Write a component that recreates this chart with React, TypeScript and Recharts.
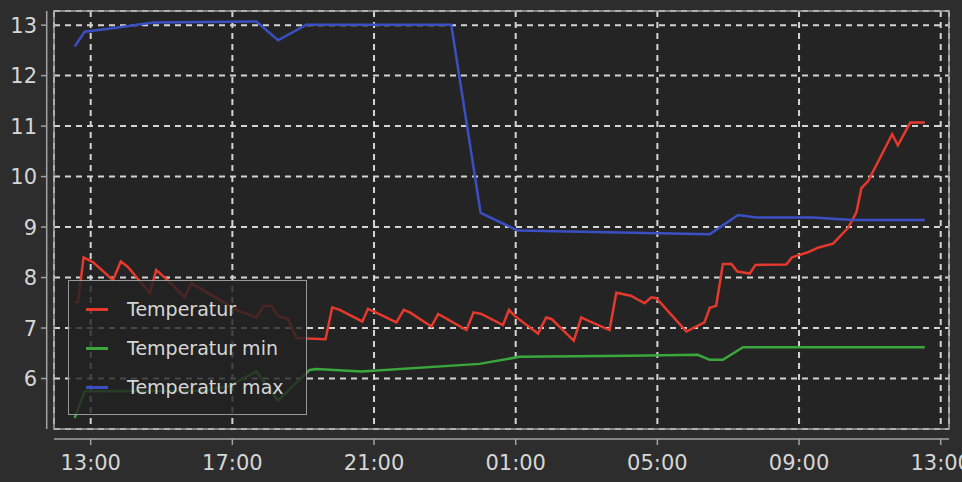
import React from "react";
import { LineChart, Line, XAxis, YAxis, CartesianGrid, ReferenceLine, ReferenceArea } from "recharts";

// hours since midnight of day 1 (24+ = next day)
const tempHours = [
  12.55, 12.64, 12.8, 13.07, 13.63, 13.85, 14.05, 14.67, 14.85, 15.14, 15.65, 15.84, 17.11, 17.68, 17.88,
  18.1, 18.29, 18.57, 18.81, 19.63, 19.82, 20.03, 20.67, 20.83, 21.05, 21.63, 21.84, 22.01, 22.62, 22.81,
  23.61, 23.81, 24.03, 24.64, 24.81, 24.97, 25.63, 25.86, 26.01, 26.64, 26.85, 27.09, 27.65, 27.84, 28.25,
  28.64, 28.83, 28.97, 29.82, 30.33, 30.48, 30.66, 30.85, 31.09, 31.26, 31.61, 31.77, 32.64, 32.8, 33.25,
  33.53, 33.96, 34.38, 34.62, 34.76, 34.95, 35.63, 35.79, 36.14, 36.55,
];
const tempValues = [
  7.51, 7.51, 8.4, 8.3, 7.95, 8.32, 8.21, 7.69, 8.15, 7.97, 7.61, 7.89, 7.36, 7.21, 7.44,
  7.44, 7.24, 7.18, 6.8, 6.78, 7.41, 7.36, 7.13, 7.38, 7.31, 7.11, 7.36, 7.31, 7.03, 7.28,
  6.96, 7.31, 7.28, 7.06, 7.36, 7.24, 6.89, 7.21, 7.18, 6.75, 7.21, 7.13, 6.96, 7.7, 7.64,
  7.49, 7.61, 7.59, 6.93, 7.11, 7.4, 7.44, 8.27, 8.27, 8.12, 8.08, 8.25, 8.26, 8.4, 8.5,
  8.59, 8.67, 8.98, 9.29, 9.77, 9.91, 10.84, 10.62, 11.07, 11.07,
];

const minHours = [12.55, 12.83, 16.2, 16.9, 17.68, 18.29, 19.18, 19.37, 20.64, 23.98, 25.11, 28.22, 30.14, 30.48, 30.85, 31.42, 36.55];
const minValues = [5.22, 5.75, 5.76, 5.85, 6.14, 5.56, 6.17, 6.19, 6.14, 6.29, 6.43, 6.45, 6.47, 6.37, 6.37, 6.62, 6.62];

const maxHours = [12.55, 12.83, 13.72, 14.76, 17.68, 18.29, 19.09, 23.18, 24.01, 25.06, 30.48, 31.28, 31.79, 33.39, 34.52, 36.55];
const maxValues = [12.58, 12.87, 12.95, 13.05, 13.07, 12.7, 13.01, 13.01, 9.28, 8.93, 8.86, 9.24, 9.19, 9.19, 9.14, 9.14];

const xTicks = [13, 17, 21, 25, 29, 33, 37];
const yTicks = [6, 7, 8, 9, 10, 11, 12, 13];

const seriesNames = ["Temperatur", "Temperatur min", "Temperatur max"];
const seriesColors = ["#e5392d", "#3ba63b", "#3b4fc4"];

const toPoints = (hours: number[], values: number[]) => hours.map((t, i) => ({ t, v: values[i] }));
const tempData = toPoints(tempHours, tempValues);
const minData = toPoints(minHours, minValues);
const maxData = toPoints(maxHours, maxValues);

const X_DOMAIN: [number, number] = [11.964, 37.234];
const Y_DOMAIN: [number, number] = [5.0, 13.28];
const FONT = "DejaVu Sans";
const TEXT = "#d6d6d6";
const FRAME = "#a2a2a2";

const fmtHour = (h: number) => String(h % 24).padStart(2, "0") + ":00";

const XTick = ({ x, y, payload }: any) => (
  <g>
    <line x1={x} x2={x} y1={y + 10} y2={y + 16} stroke={FRAME} strokeWidth={1.5} />
    <text x={x} y={y + 41} textAnchor="middle" fill={TEXT} fontSize={21} fontFamily={FONT}>
      {fmtHour(payload.value)}
    </text>
  </g>
);

const YTick = ({ x, y, payload }: any) => (
  <g>
    <line x1={x - 13} x2={x - 7} y1={y} y2={y} stroke={FRAME} strokeWidth={1.5} />
    <text x={x - 17} y={y} dy="0.36em" textAnchor="end" fill={TEXT} fontSize={21} fontFamily={FONT}>
      {payload.value}
    </text>
  </g>
);

export default function App() {
  return (
    <div style={{ position: "absolute", left: 0, top: 0, width: 962, height: 482, background: "#2d2d2d", overflow: "hidden" }}>
      <LineChart width={962} height={482} data={tempData} margin={{ top: 11, right: 13, bottom: 0, left: 0 }}>
        <CartesianGrid
          fill="#242424"
          stroke="#d4d4d4"
          strokeWidth={2}
          strokeDasharray="6 5"
        />
        <XAxis
          dataKey="t"
          type="number"
          domain={X_DOMAIN}
          ticks={xTicks}
          allowDataOverflow
          height={53}
          tickSize={0}
          tickMargin={0}
          tickLine={false}
          axisLine={false}
          tick={<XTick />}
          interval={0}
        />
        <YAxis
          type="number"
          domain={Y_DOMAIN}
          ticks={yTicks}
          allowDataOverflow
          width={54}
          tickSize={0}
          tickMargin={0}
          tickLine={false}
          axisLine={false}
          tick={<YTick />}
          interval={0}
        />
        <ReferenceArea x1={X_DOMAIN[0]} x2={X_DOMAIN[1]} y1={Y_DOMAIN[0]} y2={Y_DOMAIN[1]} fill="none" stroke={FRAME} strokeWidth={1.5} ifOverflow="visible" />
        <ReferenceLine x={11.758} stroke={FRAME} strokeWidth={1.5} ifOverflow="visible" />
        <ReferenceLine y={4.802} stroke={FRAME} strokeWidth={1.5} ifOverflow="visible" />
        <Line data={tempData} dataKey="v" type="linear" stroke={seriesColors[0]} strokeWidth={2.5} dot={false} isAnimationActive={false} />
        <Line data={minData} dataKey="v" type="linear" stroke={seriesColors[1]} strokeWidth={2.5} dot={false} isAnimationActive={false} />
        <Line data={maxData} dataKey="v" type="linear" stroke={seriesColors[2]} strokeWidth={2.5} dot={false} isAnimationActive={false} />
      </LineChart>
      <div
        style={{
          position: "absolute",
          left: 68,
          top: 280,
          width: 239,
          height: 135,
          boxSizing: "border-box",
          border: "1.5px solid #989898",
          background: "rgba(34,34,34,0.8)",
          fontFamily: FONT,
          fontSize: 19,
          color: TEXT,
        }}
      >
        {seriesNames.map((name, i) => (
          <div key={name} style={{ position: "absolute", left: 17, top: 15 + i * 39, height: 26, display: "flex", alignItems: "center" }}>
            <span style={{ display: "inline-block", width: 22, height: 3, background: seriesColors[i] }} />
            <span style={{ marginLeft: 19, whiteSpace: "nowrap" }}>{name}</span>
          </div>
        ))}
      </div>
    </div>
  );
}
